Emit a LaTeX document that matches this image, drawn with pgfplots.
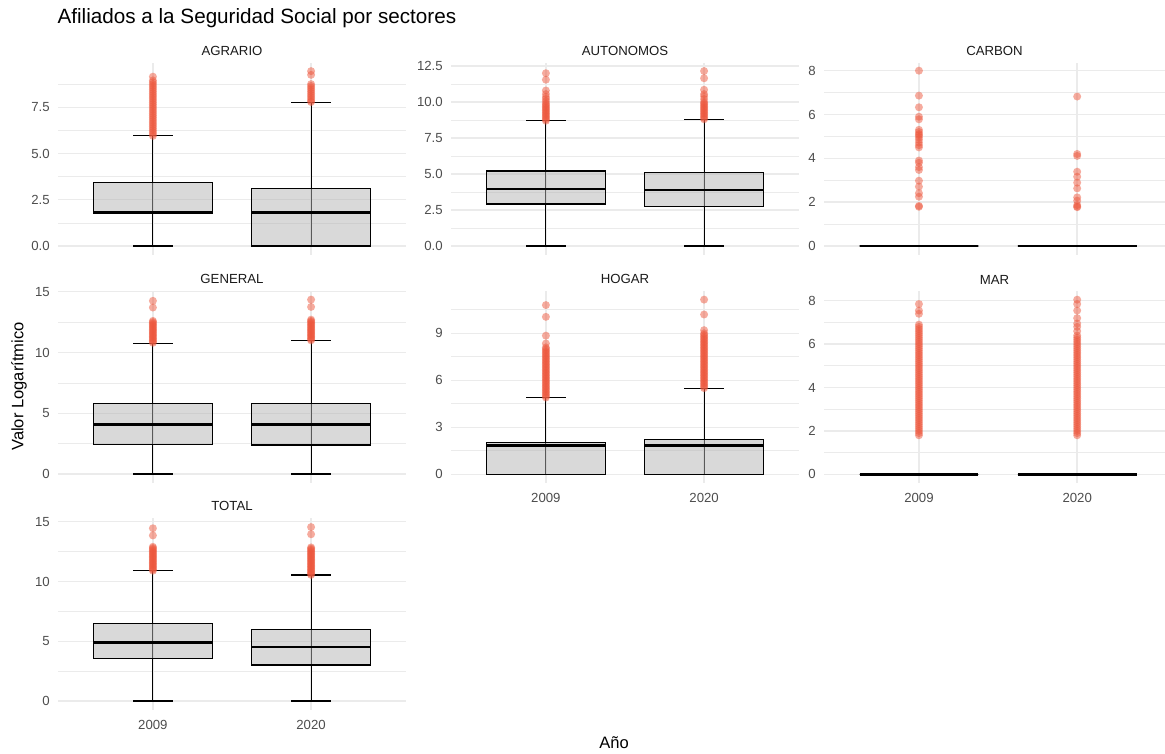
\documentclass[border=0pt]{standalone}
\usepackage{pgfplots}
\pgfplotsset{compat=1.18}
\usepgfplotslibrary{statistics}
\usepackage{fontspec}
\setmainfont{Liberation Sans}
\definecolor{outl}{RGB}{237,88,62}
\definecolor{boxfill}{RGB}{179,179,179}
\definecolor{gridc}{RGB}{235,235,235}
\definecolor{tickc}{RGB}{77,77,77}
\definecolor{stripc}{RGB}{26,26,26}
\pgfplotsset{
 panel/.style={
  scale only axis, width=261pt, height=144pt, anchor=south west,
  xmin=0.4, xmax=2.6, xtick={1,2}, xticklabels={},
  axis line style={draw=none}, major tick style={draw=none}, minor tick style={draw=none},
  xmajorgrids, ymajorgrids, yminorgrids,
  major grid style={gridc, line width=1.07pt},
  minor grid style={gridc, line width=0.53pt},
  tick label style={font=\fontsize{9.9}{11}\selectfont, text=tickc},
  yticklabel style={anchor=east, inner sep=0pt, xshift=-6pt},
  xticklabel style={anchor=north, inner sep=0pt, yshift=-7.5pt},
  /pgf/number format/assume math mode=true,
  title style={at={(0.5,1)}, anchor=base, inner sep=0pt, yshift=-0.75pt, font=\fontsize{9.9}{11}\selectfont, text=stripc},
 },
 yearlabels/.style={xticklabels={2009,2020}},
 onedec/.style={yticklabel style={/pgf/number format/fixed, /pgf/number format/fixed zerofill, /pgf/number format/precision=1}},
 outp/.style={only marks, color=outl, mark=*, mark size=3pt, mark options={draw opacity=0, fill=outl, fill opacity=0.5}},
}
\newcommand{\bx}[6]{%
 \addplot[black, line width=0.8pt, forget plot] coordinates {(#1,#2) (#1,#6)};
 \addplot[boxplot prepared={draw direction=y, draw position=#1, lower whisker=#2, lower quartile=#3, median=#4, upper quartile=#5, upper whisker=#6, box extend=0.75, whisker extend=0.25, every whisker/.style={line width=0.8pt}, every median/.style={line width=2.13pt}}, draw=black, fill=boxfill, fill opacity=0.5, line width=1pt, solid, mark=none] coordinates {};
}
\begin{document}
\begin{tikzpicture}
\path[use as bounding box] (0,0) rectangle (873.75pt,565.5pt);
% AGRARIO
\begin{axis}[panel, onedec, at={(43.5pt,374.25pt)}, title={AGRARIO},
 ymin=-0.486, ymax=9.89, ytick={0,2.5,5,7.5}, minor ytick={1.25,3.75,6.25,8.75}]
\bx{1}{0}{1.79}{1.83}{3.42}{5.95}
\bx{2}{0}{0}{1.83}{3.12}{7.75}
\addplot[outp] coordinates {(1,5.95)(1,6.05)(1,6.15)(1,6.25)(1,6.35)(1,6.45)(1,6.55)(1,6.65)(1,6.75)(1,6.85)(1,6.95)(1,7.05)(1,7.15)(1,7.25)(1,7.35)(1,7.45)(1,7.55)(1,7.65)(1,7.75)(1,7.85)(1,7.95)(1,8.05)(1,8.15)(1,8.25)(1,8.35)(1,8.45)(1,8.55)(1,8.65)(1,8.75)(1,8.85)(1,8.95)(1,9.15)};
\addplot[outp] coordinates {(2,7.78)(2,7.85)(2,7.95)(2,8.05)(2,8.15)(2,8.25)(2,8.35)(2,8.45)(2,8.55)(2,8.65)(2,8.75)(2,9.25)(2,9.45)};
\end{axis}
% AUTONOMOS
\begin{axis}[panel, onedec, at={(338.25pt,374.25pt)}, title={AUTONOMOS},
 ymin=-0.625, ymax=12.71, ytick={0,2.5,5,7.5,10,12.5}, minor ytick={1.25,3.75,6.25,8.75,11.25}]
\bx{1}{0}{2.92}{3.96}{5.21}{8.7}
\bx{2}{0}{2.73}{3.89}{5.12}{8.8}
\addplot[outp] coordinates {(1,8.7)(1,8.8)(1,8.9)(1,9.0)(1,9.1)(1,9.2)(1,9.3)(1,9.4)(1,9.5)(1,9.6)(1,9.7)(1,9.8)(1,9.9)(1,10.05)(1,10.2)(1,10.35)(1,10.55)(1,10.8)(1,11.55)(1,12.0)};
\addplot[outp] coordinates {(2,8.8)(2,8.9)(2,9.0)(2,9.1)(2,9.2)(2,9.3)(2,9.4)(2,9.5)(2,9.6)(2,9.7)(2,9.8)(2,9.9)(2,10.0)(2,10.2)(2,10.4)(2,10.55)(2,10.85)(2,11.65)(2,12.15)};
\end{axis}
% CARBON
\begin{axis}[panel, at={(618pt,374.25pt)}, width=255.75pt, xmax=2.555, title={CARBON},
 ymin=-0.41, ymax=8.35, ytick={0,2,4,6,8}, minor ytick={1,3,5,7}]
\bx{1}{0}{0}{0}{0}{0}
\bx{2}{0}{0}{0}{0}{0}
\addplot[outp] coordinates {(1,1.79)(1,1.83)(1,2.25)(1,2.41)(1,2.71)(1,2.98)(1,3.47)(1,3.6)(1,3.8)(1,3.9)(1,4.5)(1,4.6)(1,4.72)(1,4.85)(1,4.96)(1,5.05)(1,5.11)(1,5.2)(1,5.3)(1,5.78)(1,5.9)(1,6.33)(1,6.86)(1,8.0)};
\addplot[outp] coordinates {(2,1.77)(2,1.8)(2,1.87)(2,2.07)(2,2.22)(2,2.63)(2,2.89)(2,3.16)(2,3.39)(2,4.11)(2,4.2)(2,6.82)};
\end{axis}
% GENERAL
\begin{axis}[panel, at={(43.5pt,203.25pt)}, title={GENERAL},
 ymin=-0.74, ymax=15.06, ytick={0,5,10,15}, minor ytick={2.5,7.5,12.5}]
\bx{1}{0}{2.42}{4.06}{5.79}{10.76}
\bx{2}{0}{2.4}{4.06}{5.79}{10.97}
\addplot[outp] coordinates {(1,10.8)(1,10.9)(1,11.0)(1,11.1)(1,11.2)(1,11.3)(1,11.4)(1,11.5)(1,11.6)(1,11.7)(1,11.8)(1,11.9)(1,12.0)(1,12.1)(1,12.2)(1,12.3)(1,12.4)(1,12.5)(1,12.6)(1,13.7)(1,14.25)};
\addplot[outp] coordinates {(2,11.0)(2,11.1)(2,11.2)(2,11.3)(2,11.4)(2,11.5)(2,11.6)(2,11.7)(2,11.8)(2,11.9)(2,12.0)(2,12.1)(2,12.2)(2,12.3)(2,12.4)(2,12.5)(2,12.6)(2,12.7)(2,13.75)(2,14.35)};
\end{axis}
% HOGAR
\begin{axis}[panel, yearlabels, at={(338.25pt,203.25pt)}, title={HOGAR},
 ymin=-0.555, ymax=11.7, ytick={0,3,6,9}, minor ytick={1.5,4.5,7.5,10.5}]
\bx{1}{0}{0}{1.83}{2.02}{4.91}
\bx{2}{0}{0}{1.83}{2.23}{5.49}
\addplot[outp] coordinates {(1,4.9)(1,5.0)(1,5.1)(1,5.2)(1,5.3)(1,5.4)(1,5.5)(1,5.6)(1,5.7)(1,5.8)(1,5.9)(1,6.0)(1,6.1)(1,6.2)(1,6.3)(1,6.4)(1,6.5)(1,6.6)(1,6.7)(1,6.8)(1,6.9)(1,7.0)(1,7.1)(1,7.2)(1,7.3)(1,7.4)(1,7.5)(1,7.6)(1,7.7)(1,7.8)(1,7.9)(1,8.0)(1,8.1)(1,8.35)(1,8.85)(1,10.05)(1,10.8)};
\addplot[outp] coordinates {(2,5.5)(2,5.6)(2,5.7)(2,5.8)(2,5.9)(2,6.0)(2,6.1)(2,6.2)(2,6.3)(2,6.4)(2,6.5)(2,6.6)(2,6.7)(2,6.8)(2,6.9)(2,7.0)(2,7.1)(2,7.2)(2,7.3)(2,7.4)(2,7.5)(2,7.6)(2,7.7)(2,7.8)(2,7.9)(2,8.0)(2,8.1)(2,8.2)(2,8.3)(2,8.4)(2,8.5)(2,8.6)(2,8.7)(2,8.8)(2,8.9)(2,9.0)(2,9.2)(2,10.2)(2,11.15)};
\end{axis}
% MAR
\begin{axis}[panel, yearlabels, at={(618pt,203.25pt)}, width=255.75pt, xmax=2.555, title={MAR},
 ymin=-0.4, ymax=8.45, ytick={0,2,4,6,8}, minor ytick={1,3,5,7}]
\bx{1}{0}{0}{0}{0}{0}
\bx{2}{0}{0}{0}{0}{0}
\addplot[outp] coordinates {(1,1.8)(1,1.9)(1,2.0)(1,2.1)(1,2.2)(1,2.3)(1,2.4)(1,2.5)(1,2.6)(1,2.7)(1,2.8)(1,2.9)(1,3.0)(1,3.1)(1,3.2)(1,3.3)(1,3.4)(1,3.5)(1,3.6)(1,3.7)(1,3.8)(1,3.9)(1,4.0)(1,4.1)(1,4.2)(1,4.3)(1,4.4)(1,4.5)(1,4.6)(1,4.7)(1,4.8)(1,4.9)(1,5.0)(1,5.1)(1,5.2)(1,5.3)(1,5.4)(1,5.5)(1,5.6)(1,5.7)(1,5.8)(1,5.9)(1,6.0)(1,6.1)(1,6.2)(1,6.3)(1,6.4)(1,6.5)(1,6.6)(1,6.7)(1,6.8)(1,6.9)(1,7.4)(1,7.55)(1,7.85)};
\addplot[outp] coordinates {(2,1.8)(2,1.9)(2,2.0)(2,2.1)(2,2.2)(2,2.3)(2,2.4)(2,2.5)(2,2.6)(2,2.7)(2,2.8)(2,2.9)(2,3.0)(2,3.1)(2,3.2)(2,3.3)(2,3.4)(2,3.5)(2,3.6)(2,3.7)(2,3.8)(2,3.9)(2,4.0)(2,4.1)(2,4.2)(2,4.3)(2,4.4)(2,4.5)(2,4.6)(2,4.7)(2,4.8)(2,4.9)(2,5.0)(2,5.1)(2,5.2)(2,5.3)(2,5.4)(2,5.5)(2,5.6)(2,5.7)(2,5.8)(2,5.9)(2,6.0)(2,6.1)(2,6.2)(2,6.3)(2,6.4)(2,6.6)(2,6.8)(2,6.95)(2,7.2)(2,7.55)(2,7.85)(2,8.05)};
\end{axis}
% TOTAL
\begin{axis}[panel, yearlabels, at={(43.5pt,33pt)}, title={TOTAL},
 ymin=-0.75, ymax=15.31, ytick={0,5,10,15}, minor ytick={2.5,7.5,12.5}]
\bx{1}{0}{3.57}{4.88}{6.47}{10.88}
\bx{2}{0}{3.01}{4.52}{5.97}{10.54}
\addplot[outp] coordinates {(1,10.9)(1,11.0)(1,11.1)(1,11.2)(1,11.3)(1,11.4)(1,11.5)(1,11.6)(1,11.7)(1,11.8)(1,11.9)(1,12.0)(1,12.1)(1,12.2)(1,12.3)(1,12.4)(1,12.5)(1,12.6)(1,12.7)(1,12.8)(1,12.9)(1,13.85)(1,14.45)};
\addplot[outp] coordinates {(2,10.55)(2,10.65)(2,10.75)(2,10.85)(2,10.95)(2,11.05)(2,11.15)(2,11.25)(2,11.35)(2,11.45)(2,11.55)(2,11.65)(2,11.75)(2,11.85)(2,11.95)(2,12.05)(2,12.15)(2,12.25)(2,12.35)(2,12.45)(2,12.55)(2,12.65)(2,12.75)(2,12.85)(2,13.95)(2,14.55)};
\end{axis}
\node[anchor=base west, inner sep=0pt, font=\fontsize{15.5}{18}\selectfont] at (43pt,548pt) {Afiliados a la Seguridad Social por sectores};
\node[rotate=90, anchor=base, inner sep=0pt, font=\fontsize{12.4}{14}\selectfont] at (17.5pt,275.6pt) {Valor Logarítmico};
\node[anchor=base, inner sep=0pt, font=\fontsize{12.4}{14}\selectfont] at (460.5pt,4pt) {Año};
\end{tikzpicture}
\end{document}
